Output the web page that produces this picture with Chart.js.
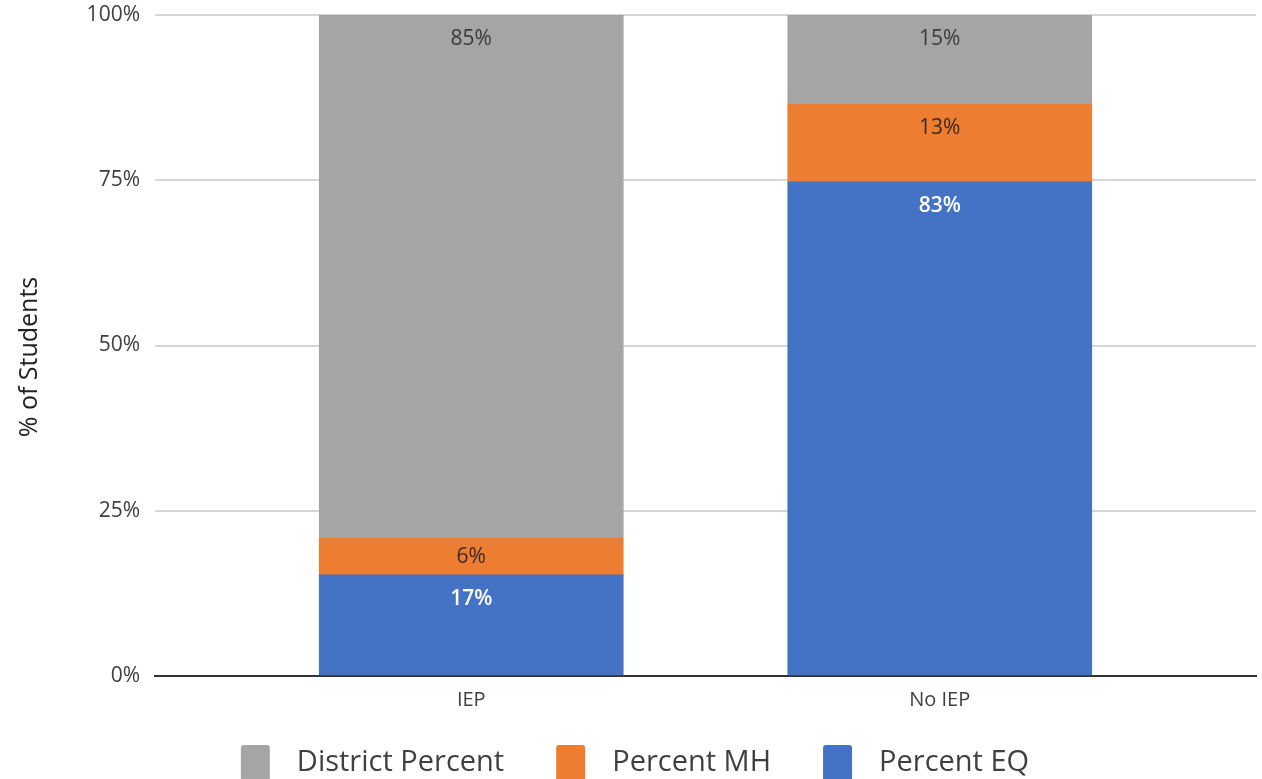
<!DOCTYPE html>
<html>
<head>
<meta charset="utf-8">
<script src="https://cdn.jsdelivr.net/npm/chart.js@4/dist/chart.umd.min.js"></script>
<style>
  html, body { margin: 0; padding: 0; background: #fff; overflow: hidden; }
  canvas { display: block; }
</style>
</head>
<body>
<canvas id="chart" width="1262" height="779"></canvas>
<script>
// Data
const categories = ['IEP', 'No IEP'];
const percentEQ = [16.5, 83];
const percentMH = [6, 13];
const districtPercent = [85.4, 15];
const yTicks = [0, 25, 50, 75, 100];
const yTitle = '% of Students';

const FONT = '"Open Sans", "Segoe UI", sans-serif';
const TEXT = '#404040';

// 100% stacked: each column scaled to its own total
const totals = categories.map((_, i) => percentEQ[i] + percentMH[i] + districtPercent[i]);
const share = arr => arr.map((v, i) => v / totals[i] * 100);

// Labels near the top of each segment (centered when the segment is thin)
const segmentLabels = {
  id: 'segmentLabels',
  afterDatasetsDraw(chart) {
    const ctx = chart.ctx;
    chart.data.datasets.forEach((ds, di) => {
      chart.getDatasetMeta(di).data.forEach((bar, i) => {
        const top = Math.min(bar.y, bar.base);
        const bottom = Math.max(bar.y, bar.base);
        const y = Math.min(top + 24, (top + bottom) / 2);
        ctx.save();
        ctx.font = (ds.labelBold ? '600 ' : '') + '21px ' + FONT;
        ctx.fillStyle = ds.labelColor;
        ctx.textAlign = 'center';
        ctx.textBaseline = 'middle';
        ctx.fillText(Math.round(ds.raw[i]) + '%', bar.x, y);
        ctx.restore();
      });
    });
  }
};

// Bottom legend (reversed order like the original) and the y axis title
const extras = {
  id: 'extras',
  afterDraw(chart) {
    const ctx = chart.ctx;
    ctx.save();
    ctx.font = '25px ' + FONT;
    ctx.fillStyle = '#222222';
    ctx.translate(37, 357);
    ctx.rotate(-Math.PI / 2);
    ctx.textAlign = 'center';
    ctx.textBaseline = 'alphabetic';
    ctx.fillText(yTitle, 0, 0);
    ctx.restore();

    const items = chart.data.datasets.slice().reverse();
    const box = 29, gap = 27, spacing = 52, cy = 763;
    ctx.save();
    ctx.font = '29px ' + FONT;
    const widths = items.map(d => ctx.measureText(d.label).width);
    const total = widths.reduce((a, b) => a + b, 0) + items.length * (box + gap) + (items.length - 1) * spacing;
    let x = 635 - total / 2;
    items.forEach((d, i) => {
      ctx.fillStyle = d.backgroundColor;
      ctx.beginPath();
      ctx.roundRect(x, 745, box, 36, 3);
      ctx.fill();
      x += box + gap;
      ctx.fillStyle = TEXT;
      ctx.textAlign = 'left';
      ctx.textBaseline = 'middle';
      ctx.fillText(d.label, x, cy);
      x += widths[i] + spacing;
    });
    ctx.restore();
  }
};

new Chart(document.getElementById('chart'), {
  type: 'bar',
  data: {
    labels: categories,
    datasets: [
      { label: 'Percent EQ', raw: percentEQ, data: share(percentEQ), backgroundColor: '#4472c4', labelColor: '#ffffff', labelBold: true },
      { label: 'Percent MH', raw: percentMH, data: share(percentMH), backgroundColor: '#ed7d31', labelColor: '#3a2a20' },
      { label: 'District Percent', raw: districtPercent, data: share(districtPercent), backgroundColor: '#a5a5a5', labelColor: '#3a3a3a' }
    ]
  },
  options: {
    responsive: false,
    animation: false,
    barThickness: 304,
    layout: { padding: { top: 15, right: 6, left: 0, bottom: 59 } },
    plugins: {
      tooltip: { enabled: false },
      legend: { display: false }
    },
    scales: {
      x: {
        stacked: true,
        grid: { display: false, drawTicks: false },
        border: { color: '#333333', width: 2 },
        ticks: { color: TEXT, font: { family: FONT, size: 20 }, padding: 12, maxRotation: 0 },
        afterBuildTicks(scale) {
          // the two columns sit nearer the middle than an even split
          scale._startValue = -0.675;
          scale._valueRange = 2.35;
        },
        afterFit(scale) { scale.height = 44; }
      },
      y: {
        stacked: true,
        min: 0,
        max: 100,
        afterBuildTicks(scale) { scale.ticks = yTicks.map(v => ({ value: v })); },
        grid: { color: '#d6d6d6', lineWidth: 2, drawTicks: false },
        border: { display: false },
        ticks: {
          color: TEXT,
          font: { family: FONT, size: 21 },
          padding: 15,
          callback: v => v + '%'
        },
        afterFit(scale) {
          scale.width = 155;
          scale.paddingTop = 0;
          scale.paddingBottom = 0;
        }
      }
    }
  },
  plugins: [segmentLabels, extras]
});
</script>
</body>
</html>
